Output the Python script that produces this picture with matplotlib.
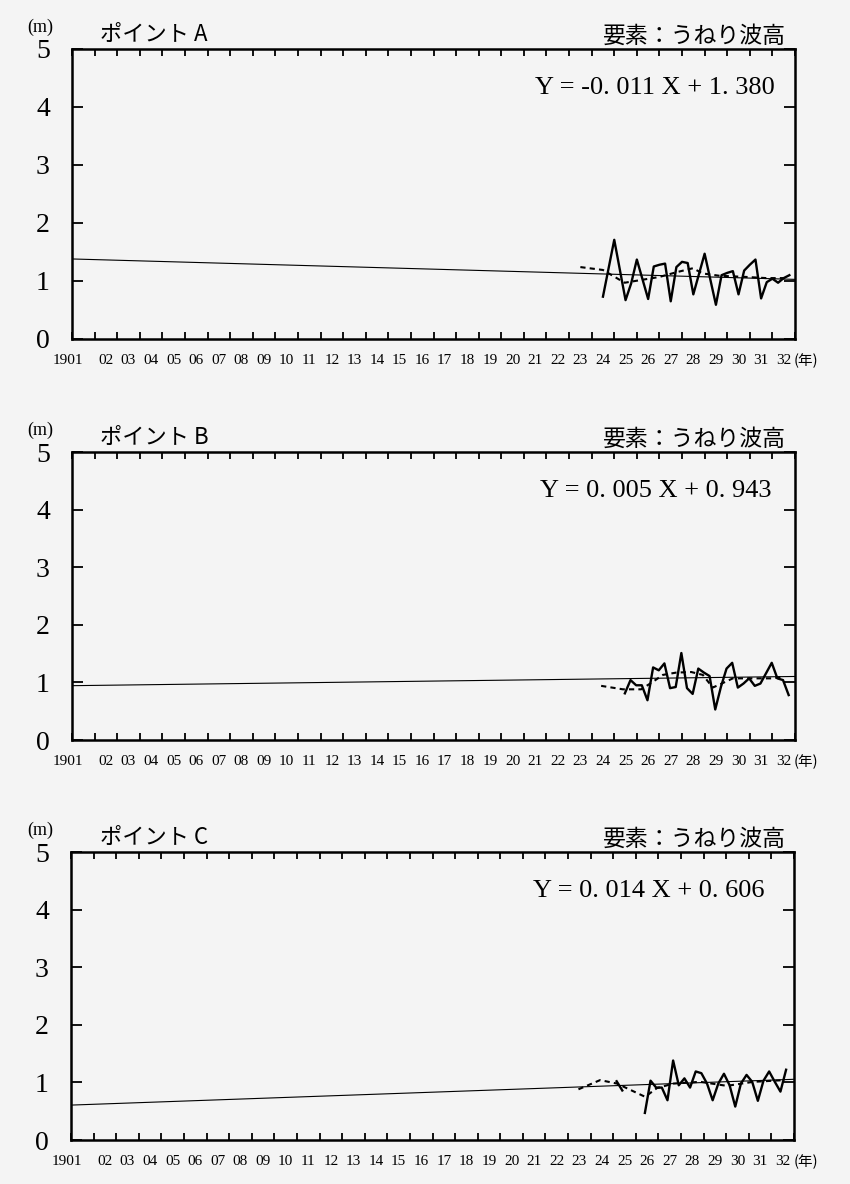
import numpy as np
import matplotlib.pyplot as plt

# ---- data ----
years = ['1901'] + ['%02d' % y for y in range(2, 33)]
points = ['ポイント A', 'ポイント B', 'ポイント C']
slopes = [-0.011, 0.005, 0.014]
intercepts = [1.380, 0.943, 0.606]
eq_text = ['Y = -0. 011 X + 1. 380', 'Y = 0. 005 X + 0. 943', 'Y = 0. 014 X + 0. 606']

# quarterly wave height (solid line), start position in years from 1901
start_a = 23.5
wave_a = [0.73, 1.22, 1.71, 1.19, 0.67, 0.96, 1.37, 1.03, 0.69, 1.25, 1.28, 1.30,
          0.65, 1.24, 1.33, 1.31, 0.77, 1.12, 1.47, 1.03, 0.59, 1.10, 1.14, 1.17,
          0.77, 1.18, 1.28, 1.37, 0.70, 0.98, 1.04, 0.97, 1.05, 1.10]
start_b = 24.47
wave_b = [0.81, 1.04, 0.95, 0.95, 0.69, 1.26, 1.21, 1.33, 0.90, 0.92, 1.51, 0.90,
          0.80, 1.24, 1.17, 1.11, 0.53, 0.92, 1.24, 1.34, 0.91, 0.98, 1.07, 0.94,
          0.98, 1.16, 1.34, 1.07, 1.04, 0.78]
start_c = 25.4
wave_c = [0.47, 1.03, 0.91, 0.91, 0.69, 1.38, 0.95, 1.07, 0.91, 1.19, 1.16, 0.98,
          0.69, 0.98, 1.15, 0.95, 0.58, 0.98, 1.13, 1.01, 0.68, 1.03, 1.19, 1.01,
          0.84, 1.22]
# short early solid piece in C
early_c_x = [24.15, 24.4]
early_c_y = [1.02, 0.86]

# smoothed (dashed) lines
avg_a_x = [22.5, 23.5, 24.46, 26.0, 26.74, 27.48, 27.92, 28.66, 29.84, 30.73, 31.61]
avg_a_y = [1.24, 1.19, 0.97, 1.07, 1.15, 1.22, 1.13, 1.09, 1.07, 1.05, 1.05]
avg_b_x = [23.42, 24.38, 25.19, 25.71, 26.15, 26.74, 27.41, 27.92, 28.36, 28.81,
           29.25, 29.84, 30.43, 31.02, 31.46]
avg_b_y = [0.94, 0.88, 0.88, 1.01, 1.13, 1.17, 1.18, 1.13, 0.91, 0.99,
           1.07, 1.07, 1.07, 1.07, 1.10]
avg_c_x = [22.46, 23.42, 24.16, 25.41, 25.93, 26.66, 27.85, 29.03, 30.2, 31.6]
avg_c_y = [0.88, 1.04, 0.98, 0.75, 0.90, 0.98, 1.01, 0.94, 1.01, 1.04]

starts = [start_a, start_b, start_c]
waves = [wave_a, wave_b, wave_c]
avgs = [(avg_a_x, avg_a_y), (avg_b_x, avg_b_y), (avg_c_x, avg_c_y)]

# ---- layout (pixels of the 850x1184 picture) ----
W, H = 850, 1184
boxes = [(72, 49, 723, 290), (72, 452, 723, 288), (71, 852, 723, 288)]
eq_x = [535, 540, 533]
bg = '#f4f4f4'
serif = ['Liberation Serif', 'DejaVu Serif']
jp = ['Noto Sans CJK JP', 'DejaVu Sans']

fig = plt.figure(figsize=(W / 100, H / 100), dpi=100, facecolor=bg)

def fx(x):
    return x / W

def fy(y):
    return 1 - y / H

for k in range(3):
    left, top, w, h = boxes[k]
    ax = fig.add_axes([fx(left), fy(top + h), w / W, h / H])
    ax.set_facecolor(bg)

    # trend line over the whole period
    tx = np.array([0, 32])
    ax.plot(tx, slopes[k] * tx + intercepts[k], color='black', lw=0.8)

    wx = starts[k] + 0.25 * np.arange(len(waves[k]))
    ax.plot(wx, waves[k], color='black', lw=1.7)
    if k == 2:
        ax.plot(early_c_x, early_c_y, color='black', lw=1.7)
    ax.plot(avgs[k][0], avgs[k][1], color='black', lw=1.5, ls=(0, (2.5, 2)))

    ax.set_xlim(0, 32)
    ax.set_ylim(0, 5)
    for s in ax.spines.values():
        s.set_linewidth(1.8)

    ax.set_xticks(np.arange(0, 33))
    ax.set_xticklabels([])
    ax.set_xticks(np.arange(32) + 0.5, minor=True)
    ax.set_xticklabels(years, minor=True, fontsize=11, family=serif)
    ax.tick_params(axis='x', which='major', direction='in', top=True, length=5, width=1.3)
    ax.tick_params(axis='x', which='minor', length=0, pad=11)
    ax.get_xticklabels(minor=True)[0].set_ha('right')

    ax.set_yticks(range(6))
    ax.set_yticklabels([str(v) for v in range(6)], fontsize=20, family=serif)
    ax.tick_params(axis='y', direction='in', right=True, length=8, width=1.3, pad=16)

    fig.text(fx(40), fy(top - 22), '(m)', fontsize=13, family=serif, ha='center', va='center')
    fig.text(fx(100), fy(top - 15), points[k], fontsize=16, family=jp, ha='left', va='center')
    fig.text(fx(786), fy(top - 13), '要素：うねり波高', fontsize=16.5, family=jp,
             ha='right', va='center')
    fig.text(fx(eq_x[k]), fy(top + 39), eq_text[k], fontsize=19, family=serif,
             ha='left', va='center')
    fig.text(fx(806), fy(top + h + 22), '(年)', fontsize=10.5, family=jp, ha='center', va='center')

plt.savefig('out.png', dpi=100, facecolor=bg)
